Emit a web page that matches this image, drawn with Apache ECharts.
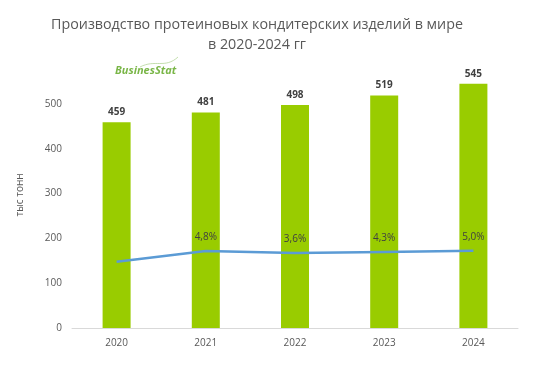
<!DOCTYPE html>
<html><head><meta charset="utf-8">
<script src="https://cdn.jsdelivr.net/npm/echarts@6/dist/echarts.min.js"></script>
<style>html,body{margin:0;padding:0;background:#fff}#c{width:539px;height:366px}</style>
</head><body><div id="c"></div>
<script>
const years = ['2020','2021','2022','2023','2024'];
const production = [459, 481, 498, 519, 545];
const growth = [-1.5, 4.8, 3.6, 4.3, 5.0];
const growthLabels = ['', '4,8%', '3,6%', '4,3%', '5,0%'];
const yTicks = [0, 100, 200, 300, 400, 500];

const chart = echarts.init(document.getElementById('c'), null, {renderer:'canvas'});
const font = "'Open Sans', sans-serif";
chart.setOption({
  animation:false,
  title:{
    text:'Производство протеиновых кондитерских изделий в мире\nв 2020-2024 гг',
    left:252, top:10, textAlign:'center',
    textStyle:{fontFamily:font, fontSize:14.3, fontWeight:'normal', color:'#595959', lineHeight:20}
  },
  graphic:[
    {type:'text', left:115, top:65, style:{text:'BusinesStat', font:"italic bold 11px 'Open Sans', sans-serif", fill:'#7ab648'}},
    {type:'bezierCurve', shape:{x1:140,y1:67,x2:178,y2:57,cpx1:155,cpy1:59,cpx2:165,cpy2:69}, style:{stroke:'#b5d69a', lineWidth:0.8, fill:null}},
    {type:'text', rotation:Math.PI/2, x:20, y:195, style:{text:'тыс тонн', font:"10px 'Open Sans', sans-serif", fill:'#595959', align:'center', verticalAlign:'middle'}}
  ],
  grid:{left:72, right:21, top:59.2, bottom:38, containLabel:false},
  xAxis:{type:'category', data:years,
    axisLine:{lineStyle:{color:'#d9d9d9'}}, axisTick:{show:false},
    axisLabel:{color:'#595959', fontFamily:font, fontSize:10, margin:10}},
  yAxis:[
    {type:'value', min:0, max:600, interval:100,
     axisLine:{show:false}, axisTick:{show:false}, splitLine:{show:false},
     axisLabel:{color:'#595959', fontFamily:font, fontSize:10, margin:10,
       formatter:v=>yTicks.includes(v)?String(v):''}},
    {type:'value', min:-41, max:119, show:false, splitLine:{show:false}}
  ],
  series:[
    {type:'bar', data:production, barWidth:28, yAxisIndex:0, z:2,
     itemStyle:{color:'#99cc00'},
     label:{show:true, position:'top', distance:5, color:'#404040', fontFamily:font, fontSize:10, fontWeight:'bold'}},
    {type:'line', data:growth, yAxisIndex:1, symbol:'circle', symbolSize:2, showSymbol:true, smooth:false, z:5,
     itemStyle:{color:'rgba(91,155,213,0)', borderWidth:0},
     lineStyle:{color:'#5b9bd5', width:2.5},
     labelLayout:{hideOverlap:false},
     label:{show:true, position:'top', distance:8, color:'#404040', opacity:1, fontFamily:font, fontSize:10,
       formatter:p=>growthLabels[p.dataIndex]}}
  ]
});
</script></body></html>
